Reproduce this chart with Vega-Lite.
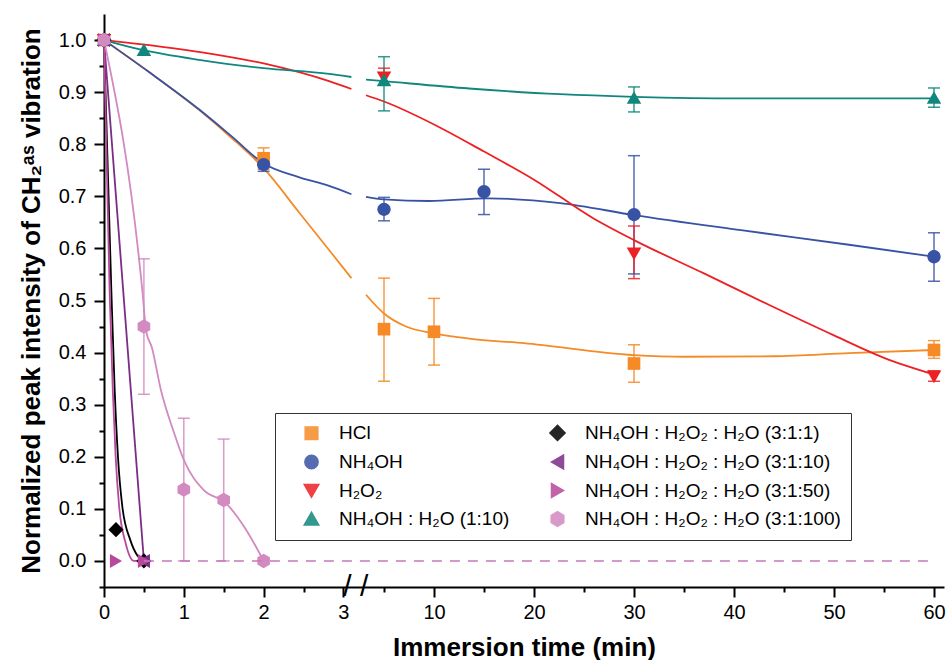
{
  "$schema": "https://vega.github.io/schema/vega-lite/v6.json",
  "width": 840,
  "height": 573,
  "padding": {"left": 18, "top": 14, "right": 2, "bottom": 0},
  "autosize": {"type": "pad"},
  "config": {
    "view": {"stroke": null},
    "font": "Liberation Sans",
    "axis": {
      "grid": false,
      "domainColor": "black",
      "domainWidth": 2,
      "tickColor": "black",
      "tickWidth": 2,
      "labelFont": "Liberation Sans",
      "labelFontSize": 20,
      "labelColor": "black",
      "titleFont": "Liberation Sans",
      "titleFontSize": 26,
      "titleFontWeight": "bold",
      "titleColor": "black"
    }
  },
  "datasets": {
    "points": [
      {"series": "HCl", "t": 0, "v": 1.0},
      {"series": "HCl", "t": 2, "v": 0.773, "lo": 0.752, "hi": 0.793},
      {"series": "HCl", "t": 5, "v": 0.445, "lo": 0.345, "hi": 0.543},
      {"series": "HCl", "t": 10, "v": 0.44, "lo": 0.376, "hi": 0.504},
      {"series": "HCl", "t": 30, "v": 0.379, "lo": 0.343, "hi": 0.415},
      {"series": "HCl", "t": 60, "v": 0.405, "lo": 0.389, "hi": 0.423},
      {"series": "NH₄OH", "t": 0, "v": 1.0},
      {"series": "NH₄OH", "t": 2, "v": 0.761, "lo": 0.748, "hi": 0.775},
      {"series": "NH₄OH", "t": 5, "v": 0.675, "lo": 0.653, "hi": 0.698},
      {"series": "NH₄OH", "t": 15, "v": 0.709, "lo": 0.665, "hi": 0.752},
      {"series": "NH₄OH", "t": 30, "v": 0.665, "lo": 0.551, "hi": 0.778},
      {"series": "NH₄OH", "t": 60, "v": 0.584, "lo": 0.537, "hi": 0.63},
      {"series": "H₂O₂", "t": 0, "v": 1.0},
      {"series": "H₂O₂", "t": 5, "v": 0.928, "lo": 0.914, "hi": 0.946},
      {"series": "H₂O₂", "t": 30, "v": 0.59, "lo": 0.542, "hi": 0.643},
      {"series": "H₂O₂", "t": 60, "v": 0.354, "lo": 0.345, "hi": 0.365},
      {"series": "NH₄OH : H₂O (1:10)", "t": 0, "v": 1.0},
      {"series": "NH₄OH : H₂O (1:10)", "t": 0.5, "v": 0.981},
      {"series": "NH₄OH : H₂O (1:10)", "t": 5, "v": 0.923, "lo": 0.864, "hi": 0.968},
      {"series": "NH₄OH : H₂O (1:10)", "t": 30, "v": 0.889, "lo": 0.862, "hi": 0.91},
      {"series": "NH₄OH : H₂O (1:10)", "t": 60, "v": 0.889, "lo": 0.871, "hi": 0.908},
      {"series": "NH₄OH : H₂O₂ : H₂O (3:1:1)", "t": 0, "v": 1.0},
      {"series": "NH₄OH : H₂O₂ : H₂O (3:1:1)", "t": 0.15, "v": 0.06},
      {"series": "NH₄OH : H₂O₂ : H₂O (3:1:1)", "t": 0.5, "v": 0.0},
      {"series": "NH₄OH : H₂O₂ : H₂O (3:1:10)", "t": 0, "v": 1.0},
      {"series": "NH₄OH : H₂O₂ : H₂O (3:1:10)", "t": 0.5, "v": 0.0},
      {"series": "NH₄OH : H₂O₂ : H₂O (3:1:50)", "t": 0, "v": 1.0},
      {"series": "NH₄OH : H₂O₂ : H₂O (3:1:50)", "t": 0.15, "v": 0.0},
      {"series": "NH₄OH : H₂O₂ : H₂O (3:1:50)", "t": 0.5, "v": 0.0},
      {"series": "NH₄OH : H₂O₂ : H₂O (3:1:100)", "t": 0, "v": 1.0},
      {"series": "NH₄OH : H₂O₂ : H₂O (3:1:100)", "t": 0.5, "v": 0.45, "lo": 0.32, "hi": 0.58},
      {"series": "NH₄OH : H₂O₂ : H₂O (3:1:100)", "t": 1, "v": 0.137, "lo": 0.0, "hi": 0.274},
      {"series": "NH₄OH : H₂O₂ : H₂O (3:1:100)", "t": 1.5, "v": 0.117, "lo": 0.0, "hi": 0.234},
      {"series": "NH₄OH : H₂O₂ : H₂O (3:1:100)", "t": 2, "v": 0.0}
    ],
    "curves": [
      {"series": "HCl", "seg": "a", "t": 0, "v": 1.0},
      {"series": "HCl", "seg": "a", "t": 0.56, "v": 0.939},
      {"series": "HCl", "seg": "a", "t": 1.19, "v": 0.866},
      {"series": "HCl", "seg": "a", "t": 1.6, "v": 0.812},
      {"series": "HCl", "seg": "a", "t": 2, "v": 0.754},
      {"series": "HCl", "seg": "a", "t": 2.44, "v": 0.67},
      {"series": "HCl", "seg": "a", "t": 2.82, "v": 0.597},
      {"series": "HCl", "seg": "a", "t": 3.1, "v": 0.543},
      {"series": "HCl", "seg": "b", "t": 3.2, "v": 0.511},
      {"series": "HCl", "seg": "b", "t": 5, "v": 0.475},
      {"series": "HCl", "seg": "b", "t": 7.2, "v": 0.45},
      {"series": "HCl", "seg": "b", "t": 10, "v": 0.437},
      {"series": "HCl", "seg": "b", "t": 13.5, "v": 0.427},
      {"series": "HCl", "seg": "b", "t": 19, "v": 0.418},
      {"series": "HCl", "seg": "b", "t": 30, "v": 0.395},
      {"series": "HCl", "seg": "b", "t": 35, "v": 0.392},
      {"series": "HCl", "seg": "b", "t": 44, "v": 0.393},
      {"series": "HCl", "seg": "b", "t": 51.5, "v": 0.399},
      {"series": "HCl", "seg": "b", "t": 60, "v": 0.405},
      {"series": "NH₄OH", "seg": "a", "t": 0, "v": 1.0},
      {"series": "NH₄OH", "seg": "a", "t": 0.56, "v": 0.939},
      {"series": "NH₄OH", "seg": "a", "t": 1.19, "v": 0.867},
      {"series": "NH₄OH", "seg": "a", "t": 1.6, "v": 0.815},
      {"series": "NH₄OH", "seg": "a", "t": 2, "v": 0.763},
      {"series": "NH₄OH", "seg": "a", "t": 2.44, "v": 0.737},
      {"series": "NH₄OH", "seg": "a", "t": 2.82, "v": 0.72},
      {"series": "NH₄OH", "seg": "a", "t": 3.1, "v": 0.704},
      {"series": "NH₄OH", "seg": "b", "t": 3.2, "v": 0.699},
      {"series": "NH₄OH", "seg": "b", "t": 5, "v": 0.694},
      {"series": "NH₄OH", "seg": "b", "t": 9.5, "v": 0.691},
      {"series": "NH₄OH", "seg": "b", "t": 15.4, "v": 0.696},
      {"series": "NH₄OH", "seg": "b", "t": 22.6, "v": 0.687},
      {"series": "NH₄OH", "seg": "b", "t": 30, "v": 0.664},
      {"series": "NH₄OH", "seg": "b", "t": 40.7, "v": 0.635},
      {"series": "NH₄OH", "seg": "b", "t": 51.5, "v": 0.607},
      {"series": "NH₄OH", "seg": "b", "t": 60, "v": 0.584},
      {"series": "H₂O₂", "seg": "a", "t": 0, "v": 1.0},
      {"series": "H₂O₂", "seg": "a", "t": 1.25, "v": 0.976},
      {"series": "H₂O₂", "seg": "a", "t": 2, "v": 0.955},
      {"series": "H₂O₂", "seg": "a", "t": 2.82, "v": 0.921},
      {"series": "H₂O₂", "seg": "a", "t": 3.1, "v": 0.906},
      {"series": "H₂O₂", "seg": "b", "t": 3.2, "v": 0.894},
      {"series": "H₂O₂", "seg": "b", "t": 5, "v": 0.882},
      {"series": "H₂O₂", "seg": "b", "t": 10, "v": 0.838},
      {"series": "H₂O₂", "seg": "b", "t": 15, "v": 0.786},
      {"series": "H₂O₂", "seg": "b", "t": 20, "v": 0.732},
      {"series": "H₂O₂", "seg": "b", "t": 26, "v": 0.657},
      {"series": "H₂O₂", "seg": "b", "t": 30, "v": 0.616},
      {"series": "H₂O₂", "seg": "b", "t": 37, "v": 0.552},
      {"series": "H₂O₂", "seg": "b", "t": 44, "v": 0.487},
      {"series": "H₂O₂", "seg": "b", "t": 50, "v": 0.433},
      {"series": "H₂O₂", "seg": "b", "t": 55, "v": 0.39},
      {"series": "H₂O₂", "seg": "b", "t": 60, "v": 0.358},
      {"series": "NH₄OH : H₂O (1:10)", "seg": "a", "t": 0, "v": 1.0},
      {"series": "NH₄OH : H₂O (1:10)", "seg": "a", "t": 0.48, "v": 0.981},
      {"series": "NH₄OH : H₂O (1:10)", "seg": "a", "t": 1.19, "v": 0.962},
      {"series": "NH₄OH : H₂O (1:10)", "seg": "a", "t": 2, "v": 0.946},
      {"series": "NH₄OH : H₂O (1:10)", "seg": "a", "t": 2.82, "v": 0.935},
      {"series": "NH₄OH : H₂O (1:10)", "seg": "a", "t": 3.1, "v": 0.929},
      {"series": "NH₄OH : H₂O (1:10)", "seg": "b", "t": 3.2, "v": 0.924},
      {"series": "NH₄OH : H₂O (1:10)", "seg": "b", "t": 5, "v": 0.921},
      {"series": "NH₄OH : H₂O (1:10)", "seg": "b", "t": 13.5, "v": 0.907},
      {"series": "NH₄OH : H₂O (1:10)", "seg": "b", "t": 22.6, "v": 0.896},
      {"series": "NH₄OH : H₂O (1:10)", "seg": "b", "t": 30, "v": 0.891},
      {"series": "NH₄OH : H₂O (1:10)", "seg": "b", "t": 40.7, "v": 0.888},
      {"series": "NH₄OH : H₂O (1:10)", "seg": "b", "t": 60, "v": 0.888},
      {"series": "NH₄OH : H₂O₂ : H₂O (3:1:1)", "seg": "a", "t": 0, "v": 1.0},
      {"series": "NH₄OH : H₂O₂ : H₂O (3:1:1)", "seg": "a", "t": 0.092, "v": 0.52},
      {"series": "NH₄OH : H₂O₂ : H₂O (3:1:1)", "seg": "a", "t": 0.134, "v": 0.328},
      {"series": "NH₄OH : H₂O₂ : H₂O (3:1:1)", "seg": "a", "t": 0.175, "v": 0.2},
      {"series": "NH₄OH : H₂O₂ : H₂O (3:1:1)", "seg": "a", "t": 0.23, "v": 0.104},
      {"series": "NH₄OH : H₂O₂ : H₂O (3:1:1)", "seg": "a", "t": 0.33, "v": 0.04},
      {"series": "NH₄OH : H₂O₂ : H₂O (3:1:1)", "seg": "a", "t": 0.42, "v": 0.01},
      {"series": "NH₄OH : H₂O₂ : H₂O (3:1:1)", "seg": "a", "t": 0.5, "v": 0.0},
      {"series": "NH₄OH : H₂O₂ : H₂O (3:1:10)", "seg": "a", "t": 0, "v": 1.0},
      {"series": "NH₄OH : H₂O₂ : H₂O (3:1:10)", "seg": "a", "t": 0.5, "v": 0.0},
      {"series": "NH₄OH : H₂O₂ : H₂O (3:1:50)", "seg": "a", "t": 0, "v": 1.0},
      {"series": "NH₄OH : H₂O₂ : H₂O (3:1:50)", "seg": "a", "t": 0.07, "v": 0.52},
      {"series": "NH₄OH : H₂O₂ : H₂O (3:1:50)", "seg": "a", "t": 0.11, "v": 0.328},
      {"series": "NH₄OH : H₂O₂ : H₂O (3:1:50)", "seg": "a", "t": 0.146, "v": 0.2},
      {"series": "NH₄OH : H₂O₂ : H₂O (3:1:50)", "seg": "a", "t": 0.19, "v": 0.104},
      {"series": "NH₄OH : H₂O₂ : H₂O (3:1:50)", "seg": "a", "t": 0.27, "v": 0.035},
      {"series": "NH₄OH : H₂O₂ : H₂O (3:1:50)", "seg": "a", "t": 0.375, "v": 0.0},
      {"series": "NH₄OH : H₂O₂ : H₂O (3:1:50)", "seg": "a", "t": 0.5, "v": 0.0},
      {"series": "NH₄OH : H₂O₂ : H₂O (3:1:100)", "seg": "a", "t": 0, "v": 1.0},
      {"series": "NH₄OH : H₂O₂ : H₂O (3:1:100)", "seg": "a", "t": 0.48, "v": 0.52},
      {"series": "NH₄OH : H₂O₂ : H₂O (3:1:100)", "seg": "a", "t": 0.53, "v": 0.44},
      {"series": "NH₄OH : H₂O₂ : H₂O (3:1:100)", "seg": "a", "t": 0.6, "v": 0.41},
      {"series": "NH₄OH : H₂O₂ : H₂O (3:1:100)", "seg": "a", "t": 0.71, "v": 0.33},
      {"series": "NH₄OH : H₂O₂ : H₂O (3:1:100)", "seg": "a", "t": 0.88, "v": 0.245},
      {"series": "NH₄OH : H₂O₂ : H₂O (3:1:100)", "seg": "a", "t": 1.0, "v": 0.194},
      {"series": "NH₄OH : H₂O₂ : H₂O (3:1:100)", "seg": "a", "t": 1.25, "v": 0.136},
      {"series": "NH₄OH : H₂O₂ : H₂O (3:1:100)", "seg": "a", "t": 1.52, "v": 0.112},
      {"series": "NH₄OH : H₂O₂ : H₂O (3:1:100)", "seg": "a", "t": 1.78, "v": 0.06},
      {"series": "NH₄OH : H₂O₂ : H₂O (3:1:100)", "seg": "a", "t": 2.0, "v": 0.0}
    ],
    "baseline": [
      {"t": 0.5, "v": 0.0},
      {"t": 60, "v": 0.0}
    ],
    "breakmark": [
      {"t": 3.13, "v": -0.05, "label": "/ /"}
    ]
  },
  "layer": [
    {
      "layer": [
        {
          "data": {"name": "curves"},
          "mark": {"type": "line", "interpolate": "monotone", "strokeWidth": 1.8},
          "encoding": {
            "x": {"field": "t", "type": "quantitative",
              "scale": {"domain": [0, 3.1, 3.2, 61], "range": [0, 247.4, 262, 840], "nice": false, "zero": false},
              "axis": {"title": "Immersion time (min)", "values": [0, 1, 2, 3, 10, 20, 30, 40, 50, 60], "tickSize": 10, "labelPadding": 5, "titlePadding": 12, "labelFlush": false}},
            "y": {"field": "v", "type": "quantitative",
              "scale": {"domain": [-0.05, 1.05], "nice": false, "zero": false},
              "axis": {"title": "Normalized peak intensity of CH₂ᵃˢ vibration", "values": [0, 0.1, 0.2, 0.3, 0.4, 0.5, 0.6, 0.7, 0.8, 0.9, 1.0], "format": ".1f", "tickSize": 10, "labelPadding": 8, "titlePadding": 14}},
            "color": {"field": "series", "type": "nominal",
              "scale": {"domain": ["HCl", "NH₄OH", "H₂O₂", "NH₄OH : H₂O (1:10)", "NH₄OH : H₂O₂ : H₂O (3:1:1)", "NH₄OH : H₂O₂ : H₂O (3:1:10)", "NH₄OH : H₂O₂ : H₂O (3:1:50)", "NH₄OH : H₂O₂ : H₂O (3:1:100)"],
                "range": ["#f58a27", "#3953a4", "#ed2024", "#10877d", "#000000", "#7b2c87", "#b8489c", "#d28ac0"]}},
            "detail": {"field": "seg", "type": "nominal"}
          }
        },
        {
          "data": {"name": "points"},
          "transform": [{"filter": "isValid(datum.lo)"}],
          "mark": {"type": "rule", "strokeWidth": 1.5, "opacity": 0.85},
          "encoding": {
            "x": {"field": "t", "type": "quantitative", "scale": {"domain": [0, 3.1, 3.2, 61], "range": [0, 247.4, 262, 840], "nice": false, "zero": false}},
            "y": {"field": "lo", "type": "quantitative", "scale": {"domain": [-0.05, 1.05], "nice": false, "zero": false}},
            "y2": {"field": "hi"},
            "color": {"field": "series", "type": "nominal"}
          }
        },
        {
          "data": {"name": "points"},
          "transform": [{"filter": "isValid(datum.lo)"}],
          "mark": {"type": "tick", "orient": "horizontal", "size": 12, "thickness": 1.5, "opacity": 0.85},
          "encoding": {
            "x": {"field": "t", "type": "quantitative", "scale": {"domain": [0, 3.1, 3.2, 61], "range": [0, 247.4, 262, 840], "nice": false, "zero": false}},
            "y": {"field": "lo", "type": "quantitative", "scale": {"domain": [-0.05, 1.05], "nice": false, "zero": false}},
            "color": {"field": "series", "type": "nominal"}
          }
        },
        {
          "data": {"name": "points"},
          "transform": [{"filter": "isValid(datum.hi)"}],
          "mark": {"type": "tick", "orient": "horizontal", "size": 12, "thickness": 1.5, "opacity": 0.85},
          "encoding": {
            "x": {"field": "t", "type": "quantitative", "scale": {"domain": [0, 3.1, 3.2, 61], "range": [0, 247.4, 262, 840], "nice": false, "zero": false}},
            "y": {"field": "hi", "type": "quantitative", "scale": {"domain": [-0.05, 1.05], "nice": false, "zero": false}},
            "color": {"field": "series", "type": "nominal"}
          }
        },
        {
          "data": {"name": "points"},
          "mark": {"type": "point", "filled": true, "size": 160, "opacity": 1},
          "encoding": {
            "x": {"field": "t", "type": "quantitative", "scale": {"domain": [0, 3.1, 3.2, 61], "range": [0, 247.4, 262, 840], "nice": false, "zero": false}},
            "y": {"field": "v", "type": "quantitative", "scale": {"domain": [-0.05, 1.05], "nice": false, "zero": false}},
            "color": {"field": "series", "type": "nominal",
              "legend": {"title": null, "orient": "none", "legendX": 171, "legendY": 399, "columns": 2, "columnPadding": 21, "rowPadding": 7.5,
                "padding": 10, "strokeColor": "#333", "fillColor": "white", "labelFont": "Liberation Sans", "labelFontSize": 19, "labelColor": "black", "labelLimit": 400,
                "symbolSize": 160, "symbolOffset": 17, "labelOffset": 18}},
            "shape": {"field": "series", "type": "nominal",
              "scale": {"domain": ["HCl", "NH₄OH", "H₂O₂", "NH₄OH : H₂O (1:10)", "NH₄OH : H₂O₂ : H₂O (3:1:1)", "NH₄OH : H₂O₂ : H₂O (3:1:10)", "NH₄OH : H₂O₂ : H₂O (3:1:50)", "NH₄OH : H₂O₂ : H₂O (3:1:100)"],
                "range": ["M-1,-1H1V1H-1Z", "M-1.05,0A1.05,1.05,0,1,1,1.05,0A1.05,1.05,0,1,1,-1.05,0Z", "M-1.15,-0.95L1.15,-0.95L0,1.05Z", "M-1.15,0.95L1.15,0.95L0,-1.05Z", "M0,-1.2L1.2,0L0,1.2L-1.2,0Z", "M0.95,-1.1L0.95,1.1L-0.95,0Z", "M-0.95,-1.1L-0.95,1.1L0.95,0Z", "M0,-1.15L1,-0.575L1,0.575L0,1.15L-1,0.575L-1,-0.575Z"]},
              "legend": {"title": null, "orient": "none", "legendX": 171, "legendY": 399, "columns": 2, "columnPadding": 21, "rowPadding": 7.5,
                "padding": 10, "strokeColor": "#333", "fillColor": "white", "labelFont": "Liberation Sans", "labelFontSize": 19, "labelColor": "black", "labelLimit": 400,
                "symbolSize": 160, "symbolOffset": 17, "labelOffset": 18}}
          }
        },
        {
          "data": {"name": "breakmark"},
          "mark": {"type": "text", "fontSize": 30, "font": "Liberation Sans", "color": "black", "baseline": "middle", "align": "center"},
          "encoding": {
            "x": {"field": "t", "type": "quantitative", "scale": {"domain": [0, 3.1, 3.2, 61], "range": [0, 247.4, 262, 840], "nice": false, "zero": false}},
            "y": {"field": "v", "type": "quantitative", "scale": {"domain": [-0.05, 1.05], "nice": false, "zero": false}},
            "text": {"field": "label"}
          }
        }
      ]
    },
    {
      "data": {"name": "baseline"},
      "mark": {"type": "line", "color": "#c47ab8", "strokeWidth": 1.6, "strokeDash": [10, 8]},
      "encoding": {
        "x": {"field": "t", "type": "quantitative",
          "scale": {"domain": [0, 3.1, 3.2, 61], "range": [0, 247.4, 262, 840], "nice": false, "zero": false},
          "axis": {"orient": "bottom", "title": null, "labels": false, "domain": false, "tickSize": 5, "values": [0.5, 1.5, 2.5, 5, 15, 25, 35, 45, 55]}},
        "y": {"field": "v", "type": "quantitative",
          "scale": {"domain": [-0.05, 1.05], "nice": false, "zero": false},
          "axis": {"orient": "left", "title": null, "labels": false, "domain": false, "tickSize": 5, "values": [-0.05, 0.05, 0.15, 0.25, 0.35, 0.45, 0.55, 0.65, 0.75, 0.85, 0.95]}}
      }
    }
  ],
  "resolve": {"axis": {"x": "independent", "y": "independent"}}
}
